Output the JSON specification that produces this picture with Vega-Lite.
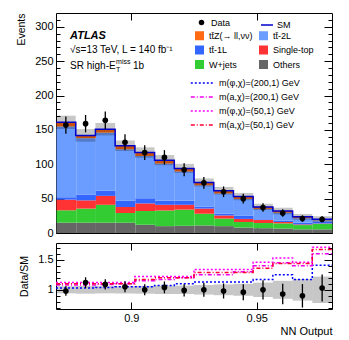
{
"$schema": "https://vega.github.io/schema/vega-lite/v6.json",
"padding": {"left": 16, "top": 12, "right": 5, "bottom": 5},
"config": {
  "font": "Liberation Sans",
  "view": {"stroke": "black", "strokeWidth": 1},
  "axis": {"domain": false, "grid": false, "tickColor": "black", "labelColor": "black", "labelFontSize": 11, "titleFontSize": 11, "titleFontWeight": "normal", "titleColor": "black", "tickWidth": 1},
  "legend": {"labelFont": "Liberation Sans", "labelColor": "black", "padding": 0, "labelFontSize": 9}
},
"datasets": {
  "bins": [
    {"lo": 0.87, "hi": 0.877857, "c": 0.873929, "data": 157, "err": 12.5, "r": 0.98, "rerr": 0.078, "bl": 151.3, "bh": 170.7, "rl": 0.94, "rh": 1.06},
    {"lo": 0.877857, "hi": 0.885714, "c": 0.881786, "data": 159, "err": 12.6, "r": 1.12, "rerr": 0.089, "bl": 132.8, "bh": 151.2, "rl": 0.935, "rh": 1.065},
    {"lo": 0.885714, "hi": 0.893571, "c": 0.889643, "data": 164, "err": 12.8, "r": 1.09, "rerr": 0.085, "bl": 141.9, "bh": 160.1, "rl": 0.94, "rh": 1.06},
    {"lo": 0.893571, "hi": 0.901429, "c": 0.8975, "data": 132, "err": 11.5, "r": 1.05, "rerr": 0.091, "bl": 119.4, "bh": 134.6, "rl": 0.94, "rh": 1.06},
    {"lo": 0.901429, "hi": 0.909286, "c": 0.905357, "data": 117, "err": 10.8, "r": 1.0, "rerr": 0.092, "bl": 109.4, "bh": 124.6, "rl": 0.935, "rh": 1.065},
    {"lo": 0.909286, "hi": 0.917143, "c": 0.913214, "data": 110, "err": 10.5, "r": 1.04, "rerr": 0.099, "bl": 98.6, "bh": 113.4, "rl": 0.93, "rh": 1.07},
    {"lo": 0.917143, "hi": 0.925, "c": 0.921071, "data": 92, "err": 9.6, "r": 0.99, "rerr": 0.102, "bl": 87.4, "bh": 100.6, "rl": 0.93, "rh": 1.07},
    {"lo": 0.925, "hi": 0.932857, "c": 0.928929, "data": 73, "err": 8.5, "r": 1.0, "rerr": 0.116, "bl": 67.6, "bh": 79.4, "rl": 0.92, "rh": 1.08},
    {"lo": 0.932857, "hi": 0.940714, "c": 0.936786, "data": 60, "err": 7.7, "r": 0.98, "rerr": 0.125, "bl": 56.0, "bh": 67.0, "rl": 0.91, "rh": 1.09},
    {"lo": 0.940714, "hi": 0.948571, "c": 0.944643, "data": 50, "err": 7.1, "r": 0.96, "rerr": 0.134, "bl": 47.7, "bh": 58.3, "rl": 0.9, "rh": 1.1},
    {"lo": 0.948571, "hi": 0.956429, "c": 0.9525, "data": 37, "err": 6.1, "r": 1.0, "rerr": 0.161, "bl": 33.4, "bh": 42.6, "rl": 0.88, "rh": 1.12},
    {"lo": 0.956429, "hi": 0.964286, "c": 0.960357, "data": 29, "err": 5.4, "r": 0.93, "rerr": 0.169, "bl": 27.2, "bh": 36.8, "rl": 0.85, "rh": 1.15},
    {"lo": 0.964286, "hi": 0.972143, "c": 0.968214, "data": 21, "err": 4.6, "r": 0.9, "rerr": 0.196, "bl": 19.3, "bh": 27.7, "rl": 0.82, "rh": 1.18},
    {"lo": 0.972143, "hi": 0.98, "c": 0.976071, "data": 20, "err": 4.5, "r": 1.03, "rerr": 0.225, "bl": 15.6, "bh": 24.4, "rl": 0.78, "rh": 1.22}
  ],
  "smstep": [
    {"lo": 0.87, "sm": 161}, {"lo": 0.877857, "sm": 142}, {"lo": 0.885714, "sm": 151}, {"lo": 0.893571, "sm": 127},
    {"lo": 0.901429, "sm": 117}, {"lo": 0.909286, "sm": 106}, {"lo": 0.917143, "sm": 94}, {"lo": 0.925, "sm": 73.5},
    {"lo": 0.932857, "sm": 61.5}, {"lo": 0.940714, "sm": 53}, {"lo": 0.948571, "sm": 38}, {"lo": 0.956429, "sm": 32},
    {"lo": 0.964286, "sm": 23.5}, {"lo": 0.972143, "sm": 20}, {"lo": 0.98, "sm": 20}
  ],
  "bkg": [
    {"lo":0.87,"hi":0.877857,"k":1,"p":"Others","v":15},{"lo":0.87,"hi":0.877857,"k":2,"p":"W+jets","v":18},{"lo":0.87,"hi":0.877857,"k":3,"p":"Single-top","v":15.5},{"lo":0.87,"hi":0.877857,"k":4,"p":"tt̄-1L","v":3.5},{"lo":0.87,"hi":0.877857,"k":5,"p":"tt̄-2L","v":103},{"lo":0.87,"hi":0.877857,"k":6,"p":"tt̄Z(→ ll,νν)","v":6},
    {"lo":0.877857,"hi":0.885714,"k":1,"p":"Others","v":15},{"lo":0.877857,"hi":0.885714,"k":2,"p":"W+jets","v":20.5},{"lo":0.877857,"hi":0.885714,"k":3,"p":"Single-top","v":12},{"lo":0.877857,"hi":0.885714,"k":4,"p":"tt̄-1L","v":8.5},{"lo":0.877857,"hi":0.885714,"k":5,"p":"tt̄-2L","v":82},{"lo":0.877857,"hi":0.885714,"k":6,"p":"tt̄Z(→ ll,νν)","v":4},
    {"lo":0.885714,"hi":0.893571,"k":1,"p":"Others","v":15},{"lo":0.885714,"hi":0.893571,"k":2,"p":"W+jets","v":26},{"lo":0.885714,"hi":0.893571,"k":3,"p":"Single-top","v":13},{"lo":0.885714,"hi":0.893571,"k":4,"p":"tt̄-1L","v":7.5},{"lo":0.885714,"hi":0.893571,"k":5,"p":"tt̄-2L","v":84.5},{"lo":0.885714,"hi":0.893571,"k":6,"p":"tt̄Z(→ ll,νν)","v":5},
    {"lo":0.893571,"hi":0.901429,"k":1,"p":"Others","v":15},{"lo":0.893571,"hi":0.901429,"k":2,"p":"W+jets","v":14},{"lo":0.893571,"hi":0.901429,"k":3,"p":"Single-top","v":9},{"lo":0.893571,"hi":0.901429,"k":4,"p":"tt̄-1L","v":9},{"lo":0.893571,"hi":0.901429,"k":5,"p":"tt̄-2L","v":75},{"lo":0.893571,"hi":0.901429,"k":6,"p":"tt̄Z(→ ll,νν)","v":5},
    {"lo":0.901429,"hi":0.909286,"k":1,"p":"Others","v":12},{"lo":0.901429,"hi":0.909286,"k":2,"p":"W+jets","v":20},{"lo":0.901429,"hi":0.909286,"k":3,"p":"Single-top","v":11},{"lo":0.901429,"hi":0.909286,"k":4,"p":"tt̄-1L","v":7.5},{"lo":0.901429,"hi":0.909286,"k":5,"p":"tt̄-2L","v":61.5},{"lo":0.901429,"hi":0.909286,"k":6,"p":"tt̄Z(→ ll,νν)","v":5},
    {"lo":0.909286,"hi":0.917143,"k":1,"p":"Others","v":10},{"lo":0.909286,"hi":0.917143,"k":2,"p":"W+jets","v":22.7},{"lo":0.909286,"hi":0.917143,"k":3,"p":"Single-top","v":8.3},{"lo":0.909286,"hi":0.917143,"k":4,"p":"tt̄-1L","v":6},{"lo":0.909286,"hi":0.917143,"k":5,"p":"tt̄-2L","v":54},{"lo":0.909286,"hi":0.917143,"k":6,"p":"tt̄Z(→ ll,νν)","v":5},
    {"lo":0.917143,"hi":0.925,"k":1,"p":"Others","v":10.5},{"lo":0.917143,"hi":0.925,"k":2,"p":"W+jets","v":23.5},{"lo":0.917143,"hi":0.925,"k":3,"p":"Single-top","v":7},{"lo":0.917143,"hi":0.925,"k":4,"p":"tt̄-1L","v":6},{"lo":0.917143,"hi":0.925,"k":5,"p":"tt̄-2L","v":42.5},{"lo":0.917143,"hi":0.925,"k":6,"p":"tt̄Z(→ ll,νν)","v":4.5},
    {"lo":0.925,"hi":0.932857,"k":1,"p":"Others","v":11},{"lo":0.925,"hi":0.932857,"k":2,"p":"W+jets","v":17},{"lo":0.925,"hi":0.932857,"k":3,"p":"Single-top","v":7.5},{"lo":0.925,"hi":0.932857,"k":4,"p":"tt̄-1L","v":3},{"lo":0.925,"hi":0.932857,"k":5,"p":"tt̄-2L","v":31},{"lo":0.925,"hi":0.932857,"k":6,"p":"tt̄Z(→ ll,νν)","v":4},
    {"lo":0.932857,"hi":0.940714,"k":1,"p":"Others","v":10},{"lo":0.932857,"hi":0.940714,"k":2,"p":"W+jets","v":11},{"lo":0.932857,"hi":0.940714,"k":3,"p":"Single-top","v":4.5},{"lo":0.932857,"hi":0.940714,"k":4,"p":"tt̄-1L","v":2.5},{"lo":0.932857,"hi":0.940714,"k":5,"p":"tt̄-2L","v":29.5},{"lo":0.932857,"hi":0.940714,"k":6,"p":"tt̄Z(→ ll,νν)","v":4},
    {"lo":0.940714,"hi":0.948571,"k":1,"p":"Others","v":8},{"lo":0.940714,"hi":0.948571,"k":2,"p":"W+jets","v":8},{"lo":0.940714,"hi":0.948571,"k":3,"p":"Single-top","v":4.5},{"lo":0.940714,"hi":0.948571,"k":4,"p":"tt̄-1L","v":4.5},{"lo":0.940714,"hi":0.948571,"k":5,"p":"tt̄-2L","v":24.5},{"lo":0.940714,"hi":0.948571,"k":6,"p":"tt̄Z(→ ll,νν)","v":3.5},
    {"lo":0.948571,"hi":0.956429,"k":1,"p":"Others","v":7},{"lo":0.948571,"hi":0.956429,"k":2,"p":"W+jets","v":7.5},{"lo":0.948571,"hi":0.956429,"k":3,"p":"Single-top","v":4.5},{"lo":0.948571,"hi":0.956429,"k":4,"p":"tt̄-1L","v":1},{"lo":0.948571,"hi":0.956429,"k":5,"p":"tt̄-2L","v":15},{"lo":0.948571,"hi":0.956429,"k":6,"p":"tt̄Z(→ ll,νν)","v":3},
    {"lo":0.956429,"hi":0.964286,"k":1,"p":"Others","v":6.5},{"lo":0.956429,"hi":0.964286,"k":2,"p":"W+jets","v":7.5},{"lo":0.956429,"hi":0.964286,"k":3,"p":"Single-top","v":2},{"lo":0.956429,"hi":0.964286,"k":4,"p":"tt̄-1L","v":2},{"lo":0.956429,"hi":0.964286,"k":5,"p":"tt̄-2L","v":11.5},{"lo":0.956429,"hi":0.964286,"k":6,"p":"tt̄Z(→ ll,νν)","v":2.5},
    {"lo":0.964286,"hi":0.972143,"k":1,"p":"Others","v":5.3},{"lo":0.964286,"hi":0.972143,"k":2,"p":"W+jets","v":6.2},{"lo":0.964286,"hi":0.972143,"k":3,"p":"Single-top","v":1},{"lo":0.964286,"hi":0.972143,"k":4,"p":"tt̄-1L","v":2.5},{"lo":0.964286,"hi":0.972143,"k":5,"p":"tt̄-2L","v":6.5},{"lo":0.964286,"hi":0.972143,"k":6,"p":"tt̄Z(→ ll,νν)","v":2},
    {"lo":0.972143,"hi":0.98,"k":1,"p":"Others","v":5.3},{"lo":0.972143,"hi":0.98,"k":2,"p":"W+jets","v":8},{"lo":0.972143,"hi":0.98,"k":3,"p":"Single-top","v":0.5},{"lo":0.972143,"hi":0.98,"k":4,"p":"tt̄-1L","v":2.5},{"lo":0.972143,"hi":0.98,"k":5,"p":"tt̄-2L","v":2.2},{"lo":0.972143,"hi":0.98,"k":6,"p":"tt̄Z(→ ll,νν)","v":1.5}
  ],
  "sig": [
    {"s":"m(φ,χ)=(200,1) GeV","lo":0.87,"r":1.03},{"s":"m(φ,χ)=(200,1) GeV","lo":0.877857,"r":1.03},{"s":"m(φ,χ)=(200,1) GeV","lo":0.885714,"r":1.04},{"s":"m(φ,χ)=(200,1) GeV","lo":0.893571,"r":1.05},{"s":"m(φ,χ)=(200,1) GeV","lo":0.901429,"r":1.05},{"s":"m(φ,χ)=(200,1) GeV","lo":0.909286,"r":1.07},{"s":"m(φ,χ)=(200,1) GeV","lo":0.917143,"r":1.10},{"s":"m(φ,χ)=(200,1) GeV","lo":0.925,"r":1.13},{"s":"m(φ,χ)=(200,1) GeV","lo":0.932857,"r":1.13},{"s":"m(φ,χ)=(200,1) GeV","lo":0.940714,"r":1.13},{"s":"m(φ,χ)=(200,1) GeV","lo":0.948571,"r":1.17},{"s":"m(φ,χ)=(200,1) GeV","lo":0.956429,"r":1.25},{"s":"m(φ,χ)=(200,1) GeV","lo":0.964286,"r":1.17},{"s":"m(φ,χ)=(200,1) GeV","lo":0.972143,"r":1.41},{"s":"m(φ,χ)=(200,1) GeV","lo":0.98,"r":1.41},
    {"s":"m(a,χ)=(200,1) GeV","lo":0.87,"r":1.08},{"s":"m(a,χ)=(200,1) GeV","lo":0.877857,"r":1.08},{"s":"m(a,χ)=(200,1) GeV","lo":0.885714,"r":1.09},{"s":"m(a,χ)=(200,1) GeV","lo":0.893571,"r":1.10},{"s":"m(a,χ)=(200,1) GeV","lo":0.901429,"r":1.15},{"s":"m(a,χ)=(200,1) GeV","lo":0.909286,"r":1.17},{"s":"m(a,χ)=(200,1) GeV","lo":0.917143,"r":1.2},{"s":"m(a,χ)=(200,1) GeV","lo":0.925,"r":1.25},{"s":"m(a,χ)=(200,1) GeV","lo":0.932857,"r":1.25},{"s":"m(a,χ)=(200,1) GeV","lo":0.940714,"r":1.3},{"s":"m(a,χ)=(200,1) GeV","lo":0.948571,"r":1.4},{"s":"m(a,χ)=(200,1) GeV","lo":0.956429,"r":1.45},{"s":"m(a,χ)=(200,1) GeV","lo":0.964286,"r":1.4},{"s":"m(a,χ)=(200,1) GeV","lo":0.972143,"r":1.6},{"s":"m(a,χ)=(200,1) GeV","lo":0.98,"r":1.6},
    {"s":"m(φ,χ)=(50,1) GeV","lo":0.87,"r":1.12},{"s":"m(φ,χ)=(50,1) GeV","lo":0.877857,"r":1.12},{"s":"m(φ,χ)=(50,1) GeV","lo":0.885714,"r":1.12},{"s":"m(φ,χ)=(50,1) GeV","lo":0.893571,"r":1.12},{"s":"m(φ,χ)=(50,1) GeV","lo":0.901429,"r":1.22},{"s":"m(φ,χ)=(50,1) GeV","lo":0.909286,"r":1.22},{"s":"m(φ,χ)=(50,1) GeV","lo":0.917143,"r":1.22},{"s":"m(φ,χ)=(50,1) GeV","lo":0.925,"r":1.34},{"s":"m(φ,χ)=(50,1) GeV","lo":0.932857,"r":1.34},{"s":"m(φ,χ)=(50,1) GeV","lo":0.940714,"r":1.34},{"s":"m(φ,χ)=(50,1) GeV","lo":0.948571,"r":1.46},{"s":"m(φ,χ)=(50,1) GeV","lo":0.956429,"r":1.53},{"s":"m(φ,χ)=(50,1) GeV","lo":0.964286,"r":1.46},{"s":"m(φ,χ)=(50,1) GeV","lo":0.972143,"r":1.71},{"s":"m(φ,χ)=(50,1) GeV","lo":0.98,"r":1.71},
    {"s":"m(a,χ)=(50,1) GeV","lo":0.87,"r":1.10},{"s":"m(a,χ)=(50,1) GeV","lo":0.877857,"r":1.10},{"s":"m(a,χ)=(50,1) GeV","lo":0.885714,"r":1.10},{"s":"m(a,χ)=(50,1) GeV","lo":0.893571,"r":1.10},{"s":"m(a,χ)=(50,1) GeV","lo":0.901429,"r":1.17},{"s":"m(a,χ)=(50,1) GeV","lo":0.909286,"r":1.2},{"s":"m(a,χ)=(50,1) GeV","lo":0.917143,"r":1.2},{"s":"m(a,χ)=(50,1) GeV","lo":0.925,"r":1.29},{"s":"m(a,χ)=(50,1) GeV","lo":0.932857,"r":1.29},{"s":"m(a,χ)=(50,1) GeV","lo":0.940714,"r":1.29},{"s":"m(a,χ)=(50,1) GeV","lo":0.948571,"r":1.36},{"s":"m(a,χ)=(50,1) GeV","lo":0.956429,"r":1.44},{"s":"m(a,χ)=(50,1) GeV","lo":0.964286,"r":1.44},{"s":"m(a,χ)=(50,1) GeV","lo":0.972143,"r":1.67},{"s":"m(a,χ)=(50,1) GeV","lo":0.98,"r":1.67}
  ]
},
"spacing": 10,
"bounds": "flush",
"resolve": {
  "scale": {"color": "independent", "strokeDash": "independent", "shape": "independent", "stroke": "independent"},
  "legend": {"color": "independent", "strokeDash": "independent", "shape": "independent", "stroke": "independent"}
},
"vconcat": [
  {
    "width": 276, "height": 220,
    "resolve": {"axis": {"x": "independent", "y": "independent"}},
    "layer": [
      {
        "data": {"name": "bkg"},
        "mark": {"type": "bar", "orient": "vertical", "binSpacing": 0},
        "encoding": {
          "x": {"field": "lo", "type": "quantitative", "bin": {"binned": true}, "scale": {"domain": [0.87, 0.98], "nice": false, "zero": false},
                "axis": {"orient": "bottom", "values": [0.9, 0.95], "labels": false, "tickSize": -7, "title": null}},
          "x2": {"field": "hi"},
          "y": {"field": "v", "type": "quantitative", "stack": "zero", "scale": {"domain": [0, 320], "nice": false},
                "axis": {"orient": "left", "values": [0, 50, 100, 150, 200, 250, 300], "tickSize": -8, "labelPadding": 11, "title": "Events", "titleAnchor": "end", "titleFontSize": 10.5, "titlePadding": 8}},
          "order": {"field": "k", "type": "quantitative"},
          "color": {"field": "p", "type": "nominal",
            "scale": {"domain": ["tt̄Z(→ ll,νν)", "tt̄-1L", "W+jets", "tt̄-2L", "Single-top", "Others"],
                      "range": ["#ff6a13", "#3366ff", "#33cc33", "#6b9cff", "#ff3333", "#666666"]},
            "legend": {"title": null, "orient": "none", "legendX": 138, "legendY": 17, "columns": 2, "columnPadding": 5, "rowPadding": 3.5, "symbolType": "square", "symbolSize": 81, "labelOffset": 4}
          }
        }
      },
      {
        "data": {"name": "bins"},
        "mark": {"type": "rect", "fill": "black", "fillOpacity": 0.22},
        "encoding": {
          "x": {"field": "lo", "type": "quantitative", "axis": {"orient": "top", "values": [0.9, 0.95], "labels": false, "tickSize": -7, "title": null}},
          "x2": {"field": "hi"},
          "y": {"field": "bl", "type": "quantitative", "axis": {"orient": "right", "values": [0, 50, 100, 150, 200, 250, 300], "labels": false, "tickSize": -8, "title": null}},
          "y2": {"field": "bh"}
        }
      },
      {
        "data": {"name": "smstep"},
        "mark": {"type": "line", "interpolate": "step-after", "strokeWidth": 1.5},
        "encoding": {
          "x": {"field": "lo", "type": "quantitative", "axis": null},
          "y": {"field": "sm", "type": "quantitative", "axis": {"orient": "left", "values": [10,20,30,40,60,70,80,90,110,120,130,140,160,170,180,190,210,220,230,240,260,270,280,290,310], "labels": false, "tickSize": -4, "title": null}},
          "stroke": {"datum": "SM", "scale": {"domain": ["SM"], "range": ["#0000cc"]},
            "legend": {"title": null, "orient": "none", "legendX": 204, "legendY": 5, "symbolType": "stroke", "symbolSize": 144, "symbolStrokeWidth": 1.5, "labelOffset": 3}}
        }
      },
      {
        "data": {"name": "bins"},
        "mark": {"type": "errorbar", "color": "black", "thickness": 1.3},
        "encoding": {
          "x": {"field": "c", "type": "quantitative", "axis": null},
          "y": {"field": "data", "type": "quantitative", "axis": {"orient": "right", "values": [10,20,30,40,60,70,80,90,110,120,130,140,160,170,180,190,210,220,230,240,260,270,280,290,310], "labels": false, "tickSize": -4, "title": null}},
          "yError": {"field": "err"}
        }
      },
      {
        "data": {"name": "bins"},
        "mark": {"type": "point", "filled": true, "color": "black", "opacity": 1, "size": 32},
        "encoding": {
          "x": {"field": "c", "type": "quantitative", "axis": null},
          "y": {"field": "data", "type": "quantitative", "axis": null},
          "shape": {"datum": "Data", "scale": {"domain": ["Data"], "range": ["circle"]},
            "legend": {"title": null, "orient": "none", "legendX": 141, "legendY": 5, "symbolSize": 30, "symbolFillColor": "black", "symbolStrokeWidth": 0, "labelOffset": 5}}
        }
      },
      {
        "data": {"values": [{"t": "ATLAS"}]},
        "mark": {"type": "text", "align": "left", "baseline": "alphabetic", "fontSize": 11, "fontWeight": "bold", "fontStyle": "italic"},
        "encoding": {"x": {"datum": 0.8756, "type": "quantitative", "axis": null}, "y": {"datum": 282, "type": "quantitative", "axis": null}, "text": {"field": "t"}}
      },
      {
        "data": {"values": [{"t": "√s=13 TeV, L = 140 fb⁻¹"}]},
        "mark": {"type": "text", "align": "left", "baseline": "alphabetic", "fontSize": 10},
        "encoding": {"x": {"datum": 0.8756, "type": "quantitative", "axis": null}, "y": {"datum": 262, "type": "quantitative", "axis": null}, "text": {"field": "t"}}
      },
      {
        "data": {"values": [{"t": "SR high-E"}]},
        "mark": {"type": "text", "align": "left", "baseline": "alphabetic", "fontSize": 10},
        "encoding": {"x": {"datum": 0.8756, "type": "quantitative", "axis": null}, "y": {"datum": 239, "type": "quantitative", "axis": null}, "text": {"field": "t"}}
      },
      {
        "data": {"values": [{"t": "miss"}]},
        "mark": {"type": "text", "align": "left", "baseline": "alphabetic", "fontSize": 7, "dx": 46, "dy": -5},
        "encoding": {"x": {"datum": 0.8756, "type": "quantitative", "axis": null}, "y": {"datum": 239, "type": "quantitative", "axis": null}, "text": {"field": "t"}}
      },
      {
        "data": {"values": [{"t": "T"}]},
        "mark": {"type": "text", "align": "left", "baseline": "alphabetic", "fontSize": 7, "dx": 46, "dy": 3},
        "encoding": {"x": {"datum": 0.8756, "type": "quantitative", "axis": null}, "y": {"datum": 239, "type": "quantitative", "axis": null}, "text": {"field": "t"}}
      },
      {
        "data": {"values": [{"t": "1b"}]},
        "mark": {"type": "text", "align": "left", "baseline": "alphabetic", "fontSize": 10, "dx": 63},
        "encoding": {"x": {"datum": 0.8756, "type": "quantitative", "axis": null}, "y": {"datum": 239, "type": "quantitative", "axis": null}, "text": {"field": "t"}}
      }
    ]
  },
  {
    "width": 276, "height": 66,
    "resolve": {"axis": {"x": "independent", "y": "independent"}},
    "layer": [
      {
        "data": {"name": "bins"},
        "mark": {"type": "rect", "fill": "black", "fillOpacity": 0.22},
        "encoding": {
          "x": {"field": "lo", "type": "quantitative", "scale": {"domain": [0.87, 0.98], "nice": false, "zero": false},
                "axis": {"orient": "bottom", "values": [0.9, 0.95], "format": "~g", "tickSize": -7, "labelPadding": 10, "title": "NN Output", "titleAnchor": "end", "titlePadding": 2, "labelFontSize": 11}},
          "x2": {"field": "hi"},
          "y": {"field": "rl", "type": "quantitative", "scale": {"domain": [0.68, 1.78], "nice": false, "zero": false},
                "axis": {"orient": "left", "values": [1, 1.5], "format": "~g", "tickSize": -8, "labelPadding": 11, "title": "Data/SM", "titleFontSize": 10.5, "titlePadding": 8}},
          "y2": {"field": "rh"}
        }
      },
      {
        "data": {"name": "sig"},
        "mark": {"type": "line", "interpolate": "step-after", "strokeWidth": 1.5},
        "encoding": {
          "x": {"field": "lo", "type": "quantitative", "axis": {"orient": "top", "values": [0.9, 0.95], "labels": false, "tickSize": -7, "title": null}},
          "y": {"field": "r", "type": "quantitative", "axis": {"orient": "right", "values": [1, 1.5], "labels": false, "tickSize": -8, "title": null}},
          "color": {"field": "s", "type": "nominal",
            "scale": {"domain": ["m(φ,χ)=(200,1) GeV", "m(a,χ)=(200,1) GeV", "m(φ,χ)=(50,1) GeV", "m(a,χ)=(50,1) GeV"], "range": ["#0000ff", "#ee00ee", "#ff00ff", "#ff0033"]},
            "legend": {"title": null, "orient": "none", "legendX": 137, "legendY": -169, "rowPadding": 0, "symbolType": "M-1.4,0H1.4", "symbolSize": 256, "symbolStrokeWidth": 1.5, "labelOffset": 8}},
          "strokeDash": {"field": "s", "type": "nominal",
            "scale": {"domain": ["m(φ,χ)=(200,1) GeV", "m(a,χ)=(200,1) GeV", "m(φ,χ)=(50,1) GeV", "m(a,χ)=(50,1) GeV"], "range": [[2, 2], [4, 2, 1, 2], [2, 2], [4, 2, 1, 2]]},
            "legend": {"title": null, "orient": "none", "legendX": 137, "legendY": -169, "rowPadding": 0, "symbolType": "M-1.4,0H1.4", "symbolSize": 256, "symbolStrokeWidth": 1.5, "labelOffset": 8}}
        }
      },
      {
        "data": {"name": "bins"},
        "mark": {"type": "errorbar", "color": "black", "thickness": 1.3},
        "encoding": {
          "x": {"field": "c", "type": "quantitative", "axis": null},
          "y": {"field": "r", "type": "quantitative", "axis": {"orient": "left", "values": [0.7, 0.8, 0.9, 1.1, 1.2, 1.3, 1.4, 1.6, 1.7], "labels": false, "tickSize": -4, "title": null}},
          "yError": {"field": "rerr"}
        }
      },
      {
        "data": {"name": "bins"},
        "mark": {"type": "circle", "color": "black", "opacity": 1, "size": 32},
        "encoding": {
          "x": {"field": "c", "type": "quantitative", "axis": null},
          "y": {"field": "r", "type": "quantitative", "axis": {"orient": "right", "values": [0.7, 0.8, 0.9, 1.1, 1.2, 1.3, 1.4, 1.6, 1.7], "labels": false, "tickSize": -4, "title": null}}
        }
      }
    ]
  }
]
}
